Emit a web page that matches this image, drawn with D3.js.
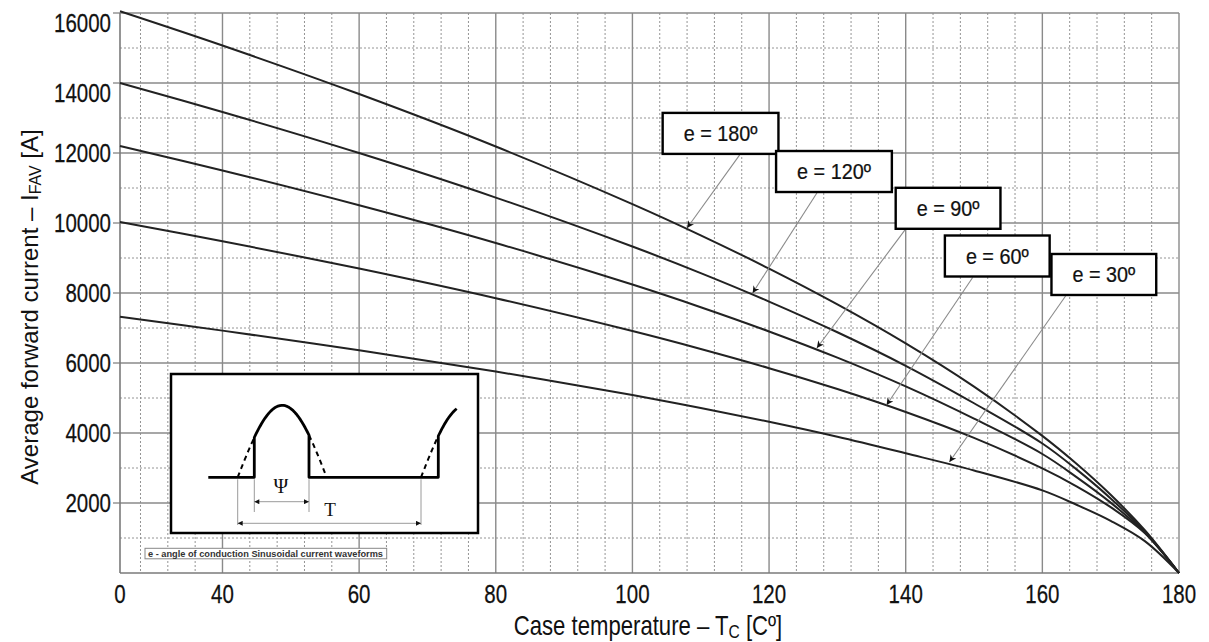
<!DOCTYPE html>
<html><head><meta charset="utf-8">
<script src="https://cdn.jsdelivr.net/npm/d3@7"></script>
<style>
html,body{margin:0;padding:0;background:#fff;}
svg{display:block;font-family:"Liberation Sans",Arial,Helvetica,sans-serif;}
</style>
</head><body>
<svg id="chart" width="1209" height="642"></svg>
<script>
// ---------------- data ----------------
const caseTemp = [25, 40, 60, 80, 100, 110, 120, 130, 140, 150, 160, 165, 170, 175, 180];
const iE180 = [16050, 15071, 13684, 12185, 10540, 9648, 8697, 7674, 6560, 5325, 3917, 3120, 2235, 1221, 0];
const iE120 = [14000, 13172, 11998, 10726, 9328, 8568, 7755, 6878, 5920, 4850, 3700, 2960, 2130, 1185, 0];
const iE90  = [12200, 11500, 10506, 9428, 8241, 7594, 6901, 6152, 5330, 4408, 3400, 2740, 2010, 1150, 0];
const iE60  = [10030, 9479, 8698, 7850, 6912, 6400, 5852, 5256, 4600, 3859, 2989, 2478, 1882, 1139, 0];
const iE30  = [7320, 6925, 6365, 5756, 5083, 4715, 4321, 3893, 3420, 2930, 2360, 1950, 1490, 910, 0];
const seriesLabels = ["e = 180º", "e = 120º", "e = 90º", "e = 60º", "e = 30º"];

const xTickValues = [25, 40, 60, 80, 100, 120, 140, 160, 180];
const xTickLabels = ["0", "40", "60", "80", "100", "120", "140", "160", "180"];
const yTickValues = [2000, 4000, 6000, 8000, 10000, 12000, 14000, 16000];

// annotation anchors (data units)
const tipTemp  = [108.0, 117.6, 127.0, 137.2, 146.4];
const tipCurr  = [9857, 8000, 6429, 4800, 3171];
const boxTemp  = [112.9, 129.5, 146.2, 153.4, 169.0];
const boxCurr  = [12560, 11471, 10420, 9057, 8529];
const tailTemp = [115.7, 127.0, 139.9, 149.8, 163.4];

const xTitle = "Case temperature – T";
const yTitle = "Average forward current – I";
const noteText = "e - angle of conduction Sinusoidal current waveforms";

// ---------------- setup ----------------
const svg = d3.select("#chart");
const W = 1209, H = 642;
svg.append("rect").attr("width", W).attr("height", H).attr("fill", "#fff");

const x = d3.scaleLinear().domain([25, 180]).range([120, 1179]);
const y = d3.scaleLinear().domain([0, 16000]).range([573, 13]);
const SX = 0.82; // horizontal condensing of the lettering

function ctext(g, px, py, str, anchor, size, sx) {
  return g.append("text")
    .attr("transform", `translate(${px},${py}) scale(${sx},1)`)
    .attr("text-anchor", anchor)
    .attr("font-size", size)
    .attr("fill", "#111")
    .attr("stroke", "#111").attr("stroke-width", 0.25)
    .text(str);
}

// ---------------- grid ----------------
const grid = svg.append("g");
const minorX = d3.range(28, 180, 4).filter(v => v % 20 !== 0);
const majorX = [40, 60, 80, 100, 120, 140, 160];
const minorY = d3.range(1000, 16000, 2000);
const majorY = d3.range(2000, 16001, 2000);

grid.selectAll(".mx").data(minorX).join("line")
  .attr("x1", d => x(d)).attr("x2", d => x(d))
  .attr("y1", y(16000)).attr("y2", y(0))
  .attr("stroke", "#949494").attr("stroke-width", 1).attr("stroke-dasharray", "2,2");
grid.selectAll(".my").data(minorY).join("line")
  .attr("x1", x(25)).attr("x2", x(180))
  .attr("y1", d => y(d)).attr("y2", d => y(d))
  .attr("stroke", "#949494").attr("stroke-width", 1).attr("stroke-dasharray", "2,2");
grid.selectAll(".Mx").data(majorX).join("line")
  .attr("x1", d => x(d)).attr("x2", d => x(d))
  .attr("y1", y(16000)).attr("y2", y(0))
  .attr("stroke", "#8a8a8a").attr("stroke-width", 1.4);
grid.selectAll(".My").data(majorY).join("line")
  .attr("x1", x(25)).attr("x2", x(180))
  .attr("y1", d => y(d)).attr("y2", d => y(d))
  .attr("stroke", "#8a8a8a").attr("stroke-width", 1.4);
// frame
grid.append("line").attr("x1", x(180)).attr("x2", x(180)).attr("y1", y(16000)).attr("y2", y(0))
  .attr("stroke", "#8a8a8a").attr("stroke-width", 1.4);
grid.append("line").attr("x1", x(25)).attr("x2", x(25)).attr("y1", y(16000)).attr("y2", y(0))
  .attr("stroke", "#7a7a7a").attr("stroke-width", 1.6);
grid.append("line").attr("x1", x(25)).attr("x2", x(180)).attr("y1", y(0)).attr("y2", y(0))
  .attr("stroke", "#7a7a7a").attr("stroke-width", 1.6);
grid.selectAll(".yt").data(yTickValues).join("line")
  .attr("x1", x(25) - 7).attr("x2", x(25))
  .attr("y1", d => y(d)).attr("y2", d => y(d))
  .attr("stroke", "#7a7a7a").attr("stroke-width", 1.2);

// ---------------- tick labels ----------------
const labels = svg.append("g");
yTickValues.forEach(v => {
  ctext(labels, 111, y(v) + (v >= 14000 ? 19 : 9), String(v), "end", 25, SX);
});
xTickValues.forEach((v, i) => {
  ctext(labels, x(v), 603, xTickLabels[i], "middle", 25, SX);
});

// axis titles
const xt = labels.append("text")
  .attr("transform", `translate(648,635) scale(${SX},1)`)
  .attr("text-anchor", "middle").attr("font-size", 27).attr("fill", "#111");
xt.append("tspan").text(xTitle);
xt.append("tspan").attr("font-size", 19).attr("dy", 3).text("C");
xt.append("tspan").attr("dy", -3).text(" [Cº]");

const yt = labels.append("text")
  .attr("transform", `translate(38,307) rotate(-90)`)
  .attr("text-anchor", "middle").attr("font-size", 24).attr("fill", "#111");
yt.append("tspan").text(yTitle);
yt.append("tspan").attr("font-size", 16).attr("dy", 3).text("FAV");
yt.append("tspan").attr("dy", -3).text(" [A]");

// ---------------- curves ----------------
const seriesData = [iE180, iE120, iE90, iE60, iE30];
const line = d3.line()
  .x((d, i) => x(caseTemp[i]))
  .y(d => y(d))
  .curve(d3.curveCatmullRom.alpha(0.5));
svg.append("g").selectAll("path").data(seriesData).join("path")
  .attr("d", d => line(d))
  .attr("fill", "none").attr("stroke", "#222").attr("stroke-width", 2);

// ---------------- inset ----------------
const inset = svg.append("g");
inset.append("rect").attr("x", 171).attr("y", 374).attr("width", 307).attr("height", 159)
  .attr("fill", "#fff").attr("stroke", "#000").attr("stroke-width", 2.5);

const base = 477.3, amp = 72, halfW = 89, s1 = 237.7, s2 = 421;
function sineY(px, start) { return base - amp * Math.sin(Math.PI * (px - start) / halfW); }
function arc(a, b, start) {
  return d3.range(a, b + 0.01, (b - a) / 30).map(px => [px, sineY(px, start)]);
}
const on1 = 254.3, off1 = 309, on2 = 438.3, endX = 456.7;
const solid = [[208.3, base], [on1, base]].concat(arc(on1, off1, s1))
  .concat([[off1, base], [on2, base]]).concat(arc(on2, endX, s2));
inset.append("path").attr("d", d3.line()(solid))
  .attr("fill", "none").attr("stroke", "#000").attr("stroke-width", 2.8).attr("stroke-linejoin", "round");
[[s1, on1, s1], [off1, s1 + halfW, s1], [s2, on2, s2]].forEach(([a, b, st]) => {
  inset.append("path").attr("d", d3.line()(arc(a, b, st)))
    .attr("fill", "none").attr("stroke", "#000").attr("stroke-width", 2).attr("stroke-dasharray", "5,4");
});
[[s1, 525], [on1, 512], [off1, 512], [s2, 525]].forEach(([px, y2]) => {
  inset.append("line").attr("x1", px).attr("x2", px).attr("y1", base + 2).attr("y2", y2)
    .attr("stroke", "#9a9a9a").attr("stroke-width", 1);
});
const defs = svg.append("defs");
defs.append("marker").attr("id", "dimArrow").attr("viewBox", "0 0 10 10")
  .attr("refX", 10).attr("refY", 5).attr("markerWidth", 10).attr("markerHeight", 5)
  .attr("markerUnits", "userSpaceOnUse").attr("orient", "auto-start-reverse")
  .append("path").attr("d", "M0,0 L10,5 L0,10 Z").attr("fill", "#111");
inset.append("line").attr("x1", on1).attr("x2", off1).attr("y1", 501.7).attr("y2", 501.7)
  .attr("stroke", "#9a9a9a").attr("stroke-width", 1)
  .attr("marker-start", "url(#dimArrow)").attr("marker-end", "url(#dimArrow)");
inset.append("line").attr("x1", s1).attr("x2", s2).attr("y1", 523.3).attr("y2", 523.3)
  .attr("stroke", "#9a9a9a").attr("stroke-width", 1)
  .attr("marker-start", "url(#dimArrow)").attr("marker-end", "url(#dimArrow)");
inset.append("text").attr("x", 281).attr("y", 493).attr("text-anchor", "middle")
  .attr("font-family", "'Liberation Serif','DejaVu Serif',serif").attr("font-size", 20).attr("fill", "#111").text("Ψ");
inset.append("text").attr("x", 330).attr("y", 516).attr("text-anchor", "middle")
  .attr("font-family", "'Liberation Serif','DejaVu Serif',serif").attr("font-size", 19).attr("fill", "#111").text("T");

inset.append("rect").attr("x", 145).attr("y", 548.3).attr("width", 241.7).attr("height", 10.5)
  .attr("fill", "#fff").attr("stroke", "#888").attr("stroke-width", 1);
inset.append("text").attr("x", 148).attr("y", 556.6).attr("font-size", 8.5).attr("font-weight", "bold")
  .attr("fill", "#333").attr("textLength", 235).attr("lengthAdjust", "spacingAndGlyphs").text(noteText);

// ---------------- annotations ----------------
defs.append("marker").attr("id", "tipArrow").attr("viewBox", "0 0 10 10")
  .attr("refX", 10).attr("refY", 5).attr("markerWidth", 10).attr("markerHeight", 7)
  .attr("markerUnits", "userSpaceOnUse").attr("orient", "auto")
  .append("path").attr("d", "M0,0 L10,5 L0,10 L3,5 Z").attr("fill", "#111");

const ann = svg.append("g");
seriesLabels.forEach((lab, i) => {
  const cx = x(boxTemp[i]), cy = y(boxCurr[i]);
  const g = ann.append("g");
  const t = ctext(g, cx, cy + 7.5, lab, "middle", 22, 0.9);
  const tw = t.node().getComputedTextLength() * 0.9;
  const bw = tw + 42, bh = 41;
  g.insert("rect", "text").attr("x", cx - bw / 2).attr("y", cy - bh / 2).attr("width", bw).attr("height", bh)
    .attr("fill", "#fff").attr("stroke", "#000").attr("stroke-width", 2.4);
  ann.insert("line", "g").attr("x1", x(tailTemp[i])).attr("y1", cy + bh / 2 + 1)
    .attr("x2", x(tipTemp[i])).attr("y2", y(tipCurr[i]))
    .attr("stroke", "#8a8a8a").attr("stroke-width", 1.1)
    .attr("marker-end", "url(#tipArrow)");
});
</script>
</body></html>
